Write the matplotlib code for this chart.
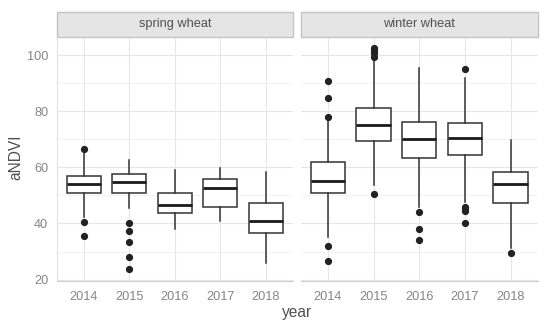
import matplotlib
matplotlib.use("Agg")
import matplotlib.pyplot as plt
from matplotlib.patches import Rectangle

plt.rcParams["font.family"] = ["Liberation Sans", "DejaVu Sans"]

years = ["2014", "2015", "2016", "2017", "2018"]
panels = ["spring wheat", "winter wheat"]

# spring wheat stats
spring_q1 = [50.7, 50.9, 43.6, 45.9, 36.5]
spring_med = [54.0, 54.9, 46.5, 52.8, 41.0]
spring_q3 = [57.0, 57.7, 50.9, 55.7, 47.2]
spring_lo = [42.4, 45.4, 37.9, 40.8, 25.8]
spring_hi = [65.5, 62.5, 59.0, 59.6, 58.4]
spring_out = [[66.5, 40.6, 35.7], [40.3, 37.4, 33.5, 28.0, 23.6], [], [], []]

# winter wheat stats
winter_q1 = [50.9, 69.5, 63.5, 64.5, 47.2]
winter_med = [55.2, 75.2, 70.1, 70.6, 53.9]
winter_q3 = [61.8, 81.0, 76.3, 75.9, 58.4]
winter_lo = [35.3, 53.7, 46.0, 47.7, 31.1]
winter_hi = [78.1, 98.2, 95.3, 92.0, 69.7]
winter_out = [[90.6, 84.8, 78.1, 31.9, 26.6],
              [102.6, 101.5, 100.6, 99.4, 50.5],
              [44.2, 38.1, 34.1],
              [94.9, 45.7, 45.1, 44.4, 40.1],
              [29.6]]

yticks = [20, 40, 60, 80, 100]
minor = [30, 50, 70, 90]

fig = plt.figure(figsize=(5.5, 3.29), dpi=100)
bot, h = 0.1459, 0.7422
axes_pos = [(0.1031, 0.4296), (0.5464, 0.4318)]
data = [(spring_q1, spring_med, spring_q3, spring_lo, spring_hi, spring_out),
        (winter_q1, winter_med, winter_q3, winter_lo, winter_hi, winter_out)]

tick_col = "#858585"
for i, ((x0, w), name, d) in enumerate(zip(axes_pos, panels, data)):
    ax = fig.add_axes([x0, bot, w, h])
    q1, med, q3, lo, hi, out = d
    stats = []
    for j in range(len(years)):
        stats.append(dict(q1=q1[j], med=med[j], q3=q3[j], whislo=lo[j],
                          whishi=hi[j], fliers=out[j], label=years[j]))
    ax.bxp(stats, positions=range(1, 6), widths=0.75, showfliers=True,
           patch_artist=True,
           boxprops=dict(facecolor="white", edgecolor="#333333", linewidth=1.1),
           medianprops=dict(color="#1a1a1a", linewidth=2.0),
           whiskerprops=dict(color="#333333", linewidth=1.1),
           capprops=dict(linewidth=0),
           flierprops=dict(marker="o", markersize=4.2, markerfacecolor="#222222",
                           markeredgecolor="#222222"))
    ax.set_xlim(0.4, 5.6)
    ax.set_ylim(19.5, 106.5)
    ax.set_yticks(yticks)
    ax.set_yticks(minor, minor=True)
    ax.set_xticks(range(1, 6))
    ax.set_xticklabels(years)
    ax.grid(True, which="major", color="#e6e6e6", linewidth=0.8)
    ax.grid(True, which="minor", axis="y", color="#f0f0f0", linewidth=0.6)
    ax.set_axisbelow(True)
    for s in ["top", "right"]:
        ax.spines[s].set_visible(False)
    ax.spines["bottom"].set_color("#d0d0d0")
    ax.spines["left"].set_color("#e0e0e0")
    ax.tick_params(which="both", length=0, labelsize=9.2, labelcolor=tick_col)
    ax.tick_params(axis="x", pad=7)
    ax.tick_params(axis="y", pad=6)
    if i == 1:
        ax.set_yticklabels([])
        ax.spines["left"].set_visible(False)
    # strip
    sax = fig.add_axes([x0, 0.8885, w, 0.0759])
    sax.set_xlim(0, 1); sax.set_ylim(0, 1)
    sax.axis("off")
    sax.add_patch(Rectangle((0, 0), 1, 1, transform=sax.transAxes,
                            facecolor="#e5e5e5", edgecolor="#c4c4c4",
                            linewidth=1.0, clip_on=False))
    sax.text(0.5, 0.5, name, ha="center", va="center", fontsize=9.2,
             color="#505050")

fig.text(16 / 550, 1 - 157.5 / 329, "aNDVI", rotation=90, ha="center",
         va="center", fontsize=11.2, color="#505050")
fig.text(297 / 550, 1 - 312 / 329, "year", ha="center", va="center",
         fontsize=11.2, color="#505050")
fig.savefig("out.png", dpi=100, facecolor="white")
